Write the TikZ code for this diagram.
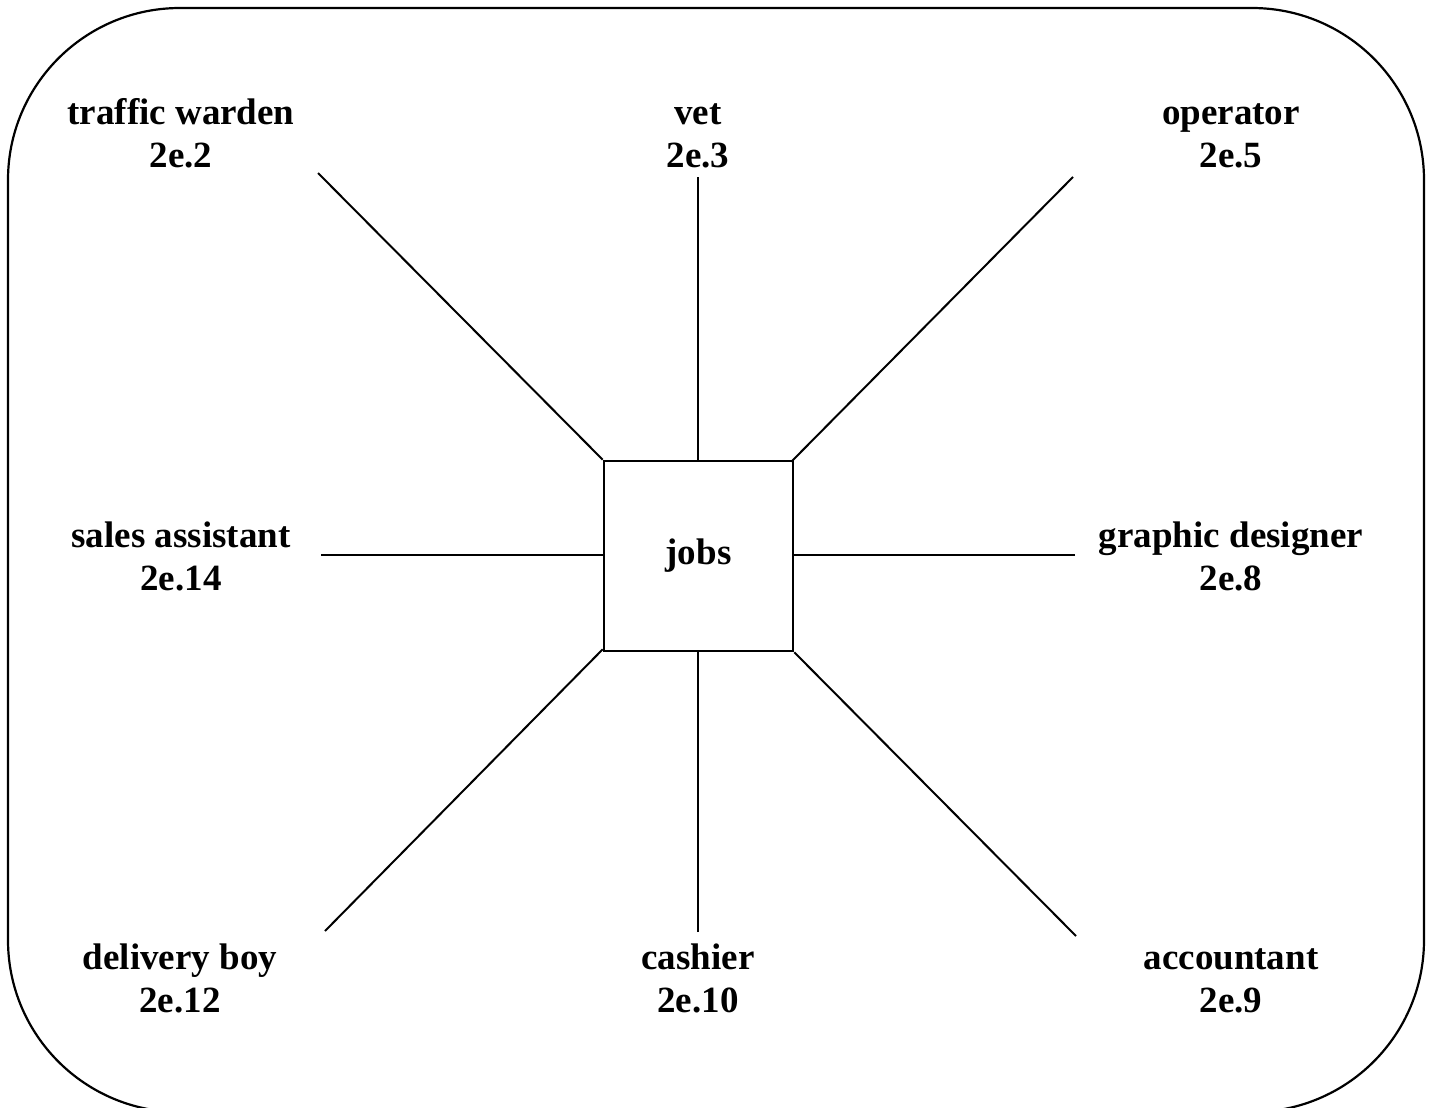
\documentclass[tikz,border=0pt]{standalone}
\usepackage{fontspec}
\setmainfont{Liberation Serif}
\begin{document}
\begin{tikzpicture}[x=1pt,y=-1pt,
  lbl/.style={align=center,font=\fontsize{37}{43}\selectfont\bfseries,inner sep=0pt},
  conn/.style={line width=2pt},
  hub/.style={draw,line width=2.6pt,minimum width=189pt,minimum height=190pt,inner sep=0pt,font=\fontsize{37}{43}\selectfont\bfseries}]
\useasboundingbox (0,0) rectangle (1432,1108);
\begin{scope}
\clip (0,0) rectangle (1432,1108);
\draw[line width=2.2pt,rounded corners=172pt] (8,8) rectangle (1424,1112);
\end{scope}
\node[hub] (jobs) at (698.5,556) {jobs};
\node[lbl] (tw) at (181,137) {traffic warden\strut\\2e.2\strut};
\node[lbl] (vet) at (698,137) {vet\strut\\2e.3\strut};
\node[lbl] (op) at (1231,137) {operator\strut\\2e.5\strut};
\node[lbl] (sa) at (181,560) {sales assistant\strut\\2e.14\strut};
\node[lbl] (gd) at (1231,560) {graphic designer\strut\\2e.8\strut};
\node[lbl] (db) at (180,982) {delivery boy\strut\\2e.12\strut};
\node[lbl] (ca) at (698,982) {cashier\strut\\2e.10\strut};
\node[lbl] (ac) at (1231,982) {accountant\strut\\2e.9\strut};
\coordinate (tw1) at (318,173);
\coordinate (vet1) at (698,177);
\coordinate (op1) at (1073,177);
\coordinate (sa1) at (321,555);
\coordinate (gd1) at (1075,555);
\coordinate (db1) at (325,931);
\coordinate (ca1) at (698,932);
\coordinate (ac1) at (1076,936);
\draw[conn] (tw1) -- (jobs.north west);
\draw[conn] (vet1) -- (vet1 |- jobs.north);
\draw[conn] (op1) -- ([xshift=-3pt,yshift=-2pt]jobs.north east);
\draw[conn] (sa1) -- (sa1 -| jobs.west);
\draw[conn] (gd1) -- (gd1 -| jobs.east);
\draw[conn] (db1) -- ([yshift=3pt]jobs.south west);
\draw[conn] (ca1) -- (ca1 |- jobs.south);
\draw[conn] (ac1) -- (jobs.south east);
\end{tikzpicture}
\end{document}
